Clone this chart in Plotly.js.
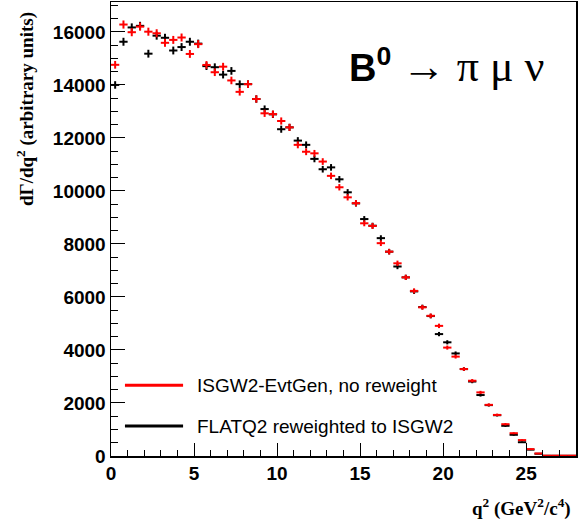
<!DOCTYPE html>
<html>
<head>
<meta charset="utf-8">
<script src="https://cdn.plot.ly/plotly-3.0.1.min.js"></script>
<style>html,body{margin:0;padding:0;background:#fff;}#chart{width:586px;height:520px;}</style>
</head>
<body>
<div id="chart"></div>
<script>
// Bin centres of q^2 (GeV^2/c^4), bin width 0.5
const q2Centers = [0.25,0.75,1.25,1.75,2.25,2.75,3.25,3.75,4.25,4.75,5.25,5.75,6.25,6.75,7.25,7.75,8.25,8.75,9.25,9.75,
  10.25,10.75,11.25,11.75,12.25,12.75,13.25,13.75,14.25,14.75,15.25,15.75,16.25,16.75,17.25,17.75,18.25,18.75,19.25,19.75,
  20.25,20.75,21.25,21.75,22.25,22.75,23.25,23.75,24.25,24.75,25.25,25.75,26.25,26.75,27.25,27.75];
const binHalfWidth = 0.25;

// ISGW2-EvtGen, no reweight (red)
const isgw2Values = [14760,16280,15990,16200,16010,15950,15590,15700,15790,15170,15540,14755,14480,14690,14170,13740,14030,13470,12930,12900,
  12640,12400,11740,11480,11420,11110,10570,10140,9760,9540,8780,8680,8030,7710,7270,6740,6230,5610,5290,4910,
  4090,3750,3280,2840,2400,1930,1550,1200,860,600,260,95,12,12,12,12];
const isgw2Errors = [146,153,152,153,152,152,150,150,151,148,150,146,144,145,143,141,142,139,136,136,
  135,134,130,129,128,126,123,121,119,117,112,112,108,105,102,99,95,90,87,84,
  77,73,69,64,59,53,47,42,35,29,19,12,4,4,4,4];

// FLATQ2 reweighted to ISGW2 (black)
const flatq2Values = [14000,15630,16170,16230,15180,15860,15780,15300,15430,15630,15560,14710,14670,14390,14530,14030,14030,13470,13090,12890,
  12330,12400,11900,11740,11210,10820,10890,10440,9950,9530,8940,8690,8220,7710,7150,6740,6210,5620,5280,4600,
  4290,3870,3280,2810,2300,1920,1540,1140,800,520,240,85,8,8,8,8];
const flatq2Errors = [142,150,153,153,148,151,151,148,149,150,150,146,145,144,145,142,142,139,137,136,
  133,134,131,130,127,125,125,123,120,117,113,112,109,105,101,99,95,90,87,81,
  79,75,69,64,58,53,47,41,34,27,19,11,3,3,3,3];

const seriesNames = ["ISGW2-EvtGen, no reweight", "FLATQ2 reweighted to ISGW2"];
const seriesColors = ["#ff0000", "#000000"];

function histTrace(vals, errs, color, name) {
  return {
    type: 'scatter', mode: 'markers', name: name, showlegend: false,
    x: q2Centers, y: vals,
    marker: {size: 2, opacity: 0, color: color},
    error_x: {type: 'constant', value: binHalfWidth, thickness: 2, width: 0, color: color},
    error_y: {type: 'data', array: errs, visible: true, thickness: 2, width: 0, color: color},
    hoverinfo: 'x+y'
  };
}

const data = [
  histTrace(flatq2Values, flatq2Errors, seriesColors[1], seriesNames[1]),
  histTrace(isgw2Values, isgw2Errors, seriesColors[0], seriesNames[0])
];

const sans = 'Liberation Sans, Arial, sans-serif';
const serif = 'Liberation Serif, Times New Roman, serif';
const axisFont = {family: sans, size: 19, color: '#000', weight: 'bold'};

const layout = {
  width: 586, height: 520,
  margin: {l: 111, r: 10, t: 2, b: 64, pad: 0},
  paper_bgcolor: '#fff', plot_bgcolor: '#fff',
  showlegend: false,
  xaxis: {
    range: [0, 28], dtick: 5, tick0: 0, tickformat: 'd',
    showgrid: false, zeroline: false,
    showline: true, linecolor: '#000', linewidth: 1.5, mirror: true,
    ticks: 'inside', ticklen: 13, tickwidth: 1, tickcolor: '#000',
    minor: {dtick: 1, ticks: 'inside', ticklen: 6, tickwidth: 1, tickcolor: '#000'},
    tickfont: axisFont
  },
  yaxis: {
    range: [0, 17130], dtick: 2000, tick0: 0, tickformat: 'd',
    showgrid: false, zeroline: false,
    showline: true, linecolor: '#000', linewidth: 1.5, mirror: true,
    ticks: 'inside', ticklen: 14, tickwidth: 1, tickcolor: '#000',
    minor: {dtick: 500, ticks: 'inside', ticklen: 7, tickwidth: 1, tickcolor: '#000'},
    tickfont: axisFont
  },
  shapes: [
    {type: 'line', xref: 'paper', yref: 'paper', x0: 0.030, x1: 0.155, y0: 0.156, y1: 0.156, line: {color: seriesColors[0], width: 3}},
    {type: 'line', xref: 'paper', yref: 'paper', x0: 0.030, x1: 0.155, y0: 0.066, y1: 0.066, line: {color: seriesColors[1], width: 3}}
  ],
  annotations: [
    {xref: 'paper', yref: 'paper', x: 0.181, y: 0.156, xanchor: 'left', yanchor: 'middle', showarrow: false,
     text: seriesNames[0], font: {family: sans, size: 19, color: '#000'}},
    {xref: 'paper', yref: 'paper', x: 0.181, y: 0.066, xanchor: 'left', yanchor: 'middle', showarrow: false,
     text: seriesNames[1], font: {family: sans, size: 19, color: '#000'}},
    {xref: 'paper', yref: 'paper', x: 0.507, y: 0.86, xanchor: 'left', yanchor: 'middle', showarrow: false,
     text: "<b>B</b><sup><b>0</b></sup> <span style='font-family:Liberation Serif;font-size:44px'>→ π μ ν</span>",
     font: {family: sans, size: 38, color: '#000'}},
    {xref: 'paper', yref: 'paper', x: 0, y: 1, xshift: -86, yshift: -8, xanchor: 'center', yanchor: 'top', textangle: -90, showarrow: false,
     text: "dΓ/dq<sup>2</sup> (arbitrary units)", font: {family: serif, size: 19, color: '#000', weight: 'bold'}},
    {xref: 'paper', yref: 'paper', x: 1, y: 0, xshift: -3, yshift: -51, xanchor: 'right', yanchor: 'middle', showarrow: false,
     text: "q<sup>2</sup> (GeV<sup>2</sup>/c<sup>4</sup>)", font: {family: serif, size: 19, color: '#000', weight: 'bold'}}
  ]
};

Plotly.newPlot('chart', data, layout, {staticPlot: true, displayModeBar: false});
</script>
</body>
</html>
